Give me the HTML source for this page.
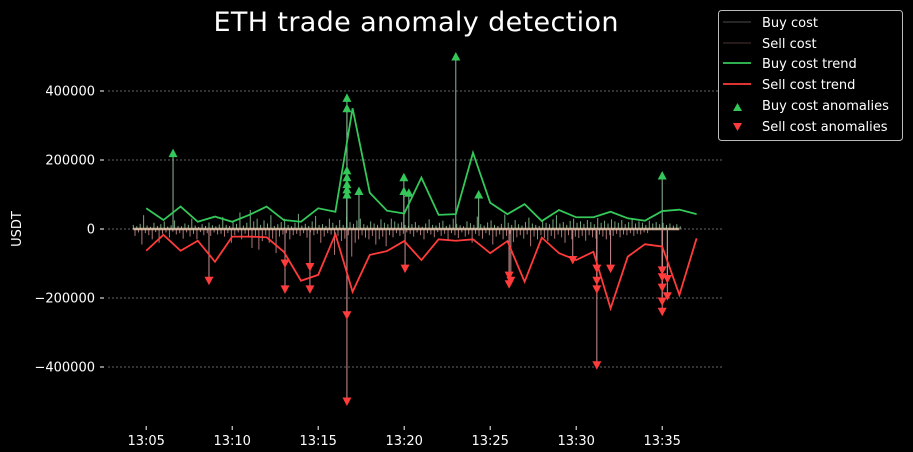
<!DOCTYPE html>
<html><head><meta charset="utf-8"><style>
html,body{margin:0;padding:0;background:#000;}
svg{display:block;font-family:"Liberation Sans","DejaVu Sans",sans-serif;}
</style></head><body>
<svg id="chart" width="913" height="452" viewBox="0 0 913 452" xmlns="http://www.w3.org/2000/svg">
<rect width="913" height="452" fill="#000"/>
<text x="416" y="31" fill="#fff" font-size="27" text-anchor="middle" font-family="DejaVu Sans, sans-serif" textLength="405">ETH trade anomaly detection</text>
<text x="0" y="0" transform="translate(21,229) rotate(-90)" fill="#fff" font-size="13" text-anchor="middle" font-family="DejaVu Sans, sans-serif">USDT</text>
<g id="grid"></g><g id="bars"></g><g id="trends"></g><g id="marks"></g><g id="axes"></g>
<g font-family="DejaVu Sans, sans-serif" font-size="13" fill="#fff">
<rect x="718.5" y="10.5" width="184" height="130" rx="3" fill="#000" stroke="#bbb"/>
<line x1="723" y1="22" x2="751" y2="22" stroke="#333" stroke-width="1.5"/>
<text x="762" y="27">Buy cost</text>
<line x1="723" y1="43" x2="751" y2="43" stroke="#332222" stroke-width="1.5"/>
<text x="762" y="48">Sell cost</text>
<line x1="723" y1="63" x2="751" y2="63" stroke="#34c759" stroke-width="1.8"/>
<text x="762" y="68">Buy cost trend</text>
<line x1="723" y1="84" x2="751" y2="84" stroke="#ff3b3b" stroke-width="1.8"/>
<text x="762" y="89">Sell cost trend</text>
<path d="M733,111 L742,111 L737.5,103 Z" fill="#34c759"/>
<text x="762" y="110">Buy cost anomalies</text>
<path d="M733,123 L742,123 L737.5,131 Z" fill="#ff3b3b"/>
<text x="762" y="131">Sell cost anomalies</text>
</g>
</svg>
<script>
// minutes past 13:00
const trendMinutes = [5,6,7,8,9,10,11,12,13,14,15,16,17,18,19,20,21,22,23,24,25,26,27,28,29,30,31,32,33,34,35,36,37];
const buyTrend = [60000,26000,65000,21000,36000,21000,41000,65000,26000,21000,60000,50000,350000,105000,53000,45000,149000,41000,43000,221000,76000,43000,72000,23000,55000,34000,34000,50000,31000,24000,52000,56000,43000];
const sellTrend = [-63000,-17000,-63000,-34000,-95000,-22000,-22000,-24000,-66000,-150000,-133000,-15000,-182000,-75000,-64000,-35000,-90000,-30000,-34000,-30000,-70000,-35000,-153000,-25000,-70000,-90000,-66000,-230000,-80000,-44000,-51000,-191000,-27000];
const buyAnomalyTimes = [6.56,16.67,16.67,16.67,16.67,16.67,16.67,16.67,17.37,19.98,19.98,20.27,23.0,24.33,35.0];
const buyAnomalyValues = [220000,380000,350000,170000,150000,130000,115000,100000,110000,150000,110000,105000,500000,100000,155000];
const sellAnomalyTimes = [8.65,13.07,13.07,14.52,14.52,16.67,16.67,20.05,26.1,26.1,26.2,29.8,31.2,31.2,31.2,31.2,32.0,35.0,35.0,35.0,35.0,35.0,35.3,35.3];
const sellAnomalyValues = [-150000,-100000,-175000,-110000,-175000,-250000,-500000,-115000,-135000,-160000,-150000,-90000,-115000,-150000,-175000,-395000,-115000,-120000,-140000,-170000,-210000,-240000,-145000,-195000];
const barStart = 4.25, barStep = 0.2;
const buyBars = [12,8,15,40,10,6,18,9,14,22,7,11,25,9,8,16,12,30,10,6,14,9,19,11,8,13,35,12,9,20,15,48,10,18,55,22,30,12,25,16,40,9,14,20,30,12,8,18,44,10,15,9,22,38,12,14,9,30,18,11,26,12,35,20,15,25,30,14,10,22,16,12,28,18,14,30,22,16,20,12,
 9,14,20,11,7,16,28,12,10,18,24,9,13,30,15,11,8,22,17,12,36,14,10,19,25,12,9,15,42,18,12,26,14,10,20,33,16,12,9,22,18,14,28,40,16,20,12,24,30,18,22,15,26,20,14,32,18,24,16,28,22,18,26,14,20,30,16,22,18,12,24,16,20,14,18,12,16,10,14,8];
const sellBars = [20,10,45,12,18,30,9,40,14,10,25,8,16,12,28,10,22,14,30,9,18,12,20,10,16,14,22,12,40,18,10,30,14,25,55,20,60,35,18,40,28,70,22,16,12,30,18,14,20,12,25,10,18,14,40,22,12,16,75,20,35,28,18,80,40,30,18,25,30,20,45,30,22,50,18,24,12,20,14,10,
 14,22,10,18,30,12,16,24,9,20,14,35,12,18,26,10,22,16,40,14,20,28,12,18,45,22,16,30,20,14,38,24,18,28,16,50,22,30,18,26,35,20,28,16,24,40,18,30,22,26,20,34,18,24,28,16,22,30,18,20,14,24,16,18,12,20,14,16,10,12];
const yTicks = [400000,200000,0,-200000,-400000];
const yTickLabels = ["400000","200000","0","\u2212200000","\u2212400000"];
const xTicks = [5,10,15,20,25,30,35];
const xTickLabels = ["13:05","13:10","13:15","13:20","13:25","13:30","13:35"];

const NS = "http://www.w3.org/2000/svg";
function X(t){ return 146.2 + (t-5)*17.2; }
function Y(v){ return 229 - v*69/200000; }
function mk(tag, attrs, parent){ const e=document.createElementNS(NS,tag); for(const k in attrs) e.setAttribute(k,attrs[k]); document.getElementById(parent).appendChild(e); return e; }

yTicks.forEach((v,i)=>{
  const g = mk('line',{x1:108,x2:724,y1:Y(v),y2:Y(v),stroke:'#888','stroke-width':0.7,'stroke-dasharray':'2,2'},'grid');
  
  
  const tk = mk('line',{x1:100,x2:104,y1:Y(v),y2:Y(v),stroke:'#fff','stroke-width':1},'axes');
  
  
  const t = mk('text',{x:95,y:Y(v)+4.5,fill:'#fff','font-size':13,'text-anchor':'end','font-family':'DejaVu Sans, sans-serif'},'axes');
  t.textContent = yTickLabels[i];
  
  
});
xTicks.forEach((m,i)=>{
  const tk = mk('line',{x1:X(m),x2:X(m),y1:426,y2:430,stroke:'#fff','stroke-width':1},'axes');
  
  
  const t = mk('text',{x:X(m),y:445,fill:'#fff','font-size':13,'text-anchor':'middle','font-family':'DejaVu Sans, sans-serif'},'axes');
  t.textContent = xTickLabels[i];
  
  
});
buyBars.forEach((v,i)=>{
  const x = X(barStart + i*barStep);
  const b = mk('line',{x1:x,x2:x,y1:Y(0),y2:Y(v*1000),stroke:'#9fe0a8','stroke-width':1,opacity:0.75},'bars');
  
  
});
sellBars.forEach((v,i)=>{
  const x = X(barStart + 0.1 + i*barStep);
  const b = mk('line',{x1:x,x2:x,y1:Y(0),y2:Y(-v*1000),stroke:'#e8a0a0','stroke-width':1,opacity:0.75},'bars');
  
  
});
const zb = mk('line',{x1:X(4.25),x2:X(36),y1:229,y2:229,stroke:'#e8c8b0','stroke-width':2.5,opacity:0.85},'bars');


buyAnomalyTimes.forEach((t,i)=>{
  const s = mk('line',{x1:X(t),x2:X(t),y1:Y(0),y2:Y(buyAnomalyValues[i]),stroke:'#8fb898','stroke-width':1},'bars');
  
  
});
sellAnomalyTimes.forEach((t,i)=>{
  const s = mk('line',{x1:X(t),x2:X(t),y1:Y(0),y2:Y(sellAnomalyValues[i]),stroke:'#c89090','stroke-width':1},'bars');
  
  
});
const bp = mk('polyline',{points:trendMinutes.map((m,i)=>X(m)+','+Y(buyTrend[i])).join(' '),fill:'none',stroke:'#34c759','stroke-width':1.8},'trends');


const sp = mk('polyline',{points:trendMinutes.map((m,i)=>X(m)+','+Y(sellTrend[i])).join(' '),fill:'none',stroke:'#ff3b3b','stroke-width':1.8},'trends');


buyAnomalyTimes.forEach((t,i)=>{
  const x=X(t), y=Y(buyAnomalyValues[i]);
  const p = mk('path',{d:`M${x-4.5},${y+4} L${x+4.5},${y+4} L${x},${y-4.5} Z`,fill:'#34c759'},'marks');
  
  
});
sellAnomalyTimes.forEach((t,i)=>{
  const x=X(t), y=Y(sellAnomalyValues[i]);
  const p = mk('path',{d:`M${x-4.5},${y-4} L${x+4.5},${y-4} L${x},${y+4.5} Z`,fill:'#ff3b3b'},'marks');
  
  
});
</script>
</body></html>
